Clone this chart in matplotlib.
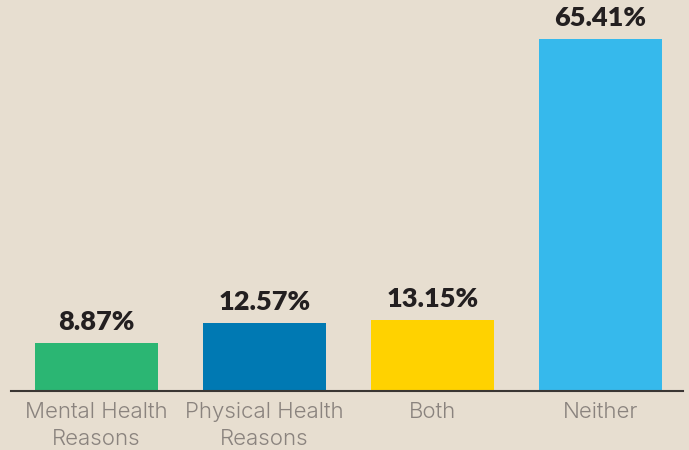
import matplotlib.pyplot as plt

categories = ["Mental Health\nReasons", "Physical Health\nReasons", "Both", "Neither"]
values = [8.87, 12.57, 13.15, 65.41]
labels = ["8.87%", "12.57%", "13.15%", "65.41%"]
colors = ["#2bb673", "#0079b3", "#ffd200", "#36b9ec"]

bg = "#e7ded0"
fig = plt.figure(figsize=(6.89, 4.5), dpi=100)
fig.patch.set_facecolor(bg)
ax = fig.add_axes([11/689, 59/450, 672/689, 391/450])
ax.set_facecolor(bg)

x = range(len(values))
ax.bar(x, values, width=0.732, color=colors, zorder=2)
for xi, v, lab in zip(x, values, labels):
    ax.text(xi, v + 1.7, lab, ha="center", va="bottom", fontsize=19.5,
            fontweight="heavy", color="#231f20", family=["Lato", "DejaVu Sans"])

ax.set_xlim(-0.509, 3.491)
ax.set_ylim(0, 72.66)
for s in ["top", "right", "left"]:
    ax.spines[s].set_visible(False)
ax.spines["bottom"].set_color("#3a3633")
ax.spines["bottom"].set_linewidth(1.5)
ax.set_yticks([])
ax.set_xticks(list(x))
ax.set_xticklabels(categories, fontsize=16, color="#8a837e", fontweight=300,
                   family=["Inter", "DejaVu Sans"], linespacing=1.4)
ax.tick_params(axis="x", length=0, pad=8)

fig.savefig("out.png", dpi=100, facecolor=bg)
